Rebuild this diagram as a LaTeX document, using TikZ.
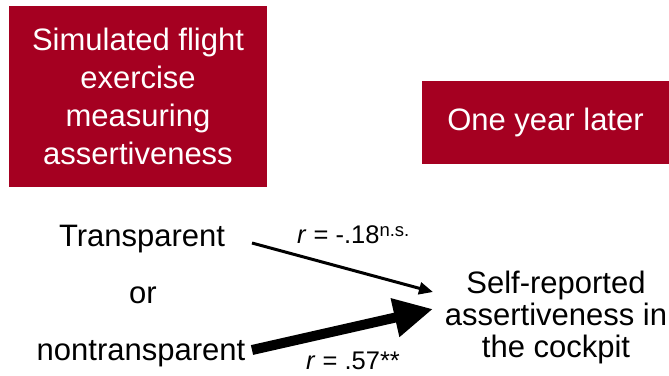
\documentclass[tikz,border=0pt]{standalone}
\usepackage{fontspec}
\setmainfont{Liberation Sans}
\usetikzlibrary{arrows.meta}
\definecolor{boxred}{RGB}{165,0,33}

\begin{document}
\begin{tikzpicture}[x=1pt,y=-1pt,
  redbox/.style={fill=boxred,text=white,align=center,inner sep=0pt,
    font=\fontsize{31}{38}\selectfont},
  txt/.style={inner sep=0pt,font=\fontsize{31}{32}\selectfont},
  lbl/.style={inner sep=0pt,anchor=base west,font=\fontsize{25.5}{30}\selectfont}]
 \useasboundingbox (0,0) rectangle (669,375);
 \node[redbox,minimum width=258pt,minimum height=181pt] (sim) at (138,96.5)
   {Simulated flight\\exercise\\measuring\\assertiveness};
 \node[redbox,minimum width=247pt,minimum height=83pt] (later) at (545.5,122.5)
   {One year later};
 \node[txt,anchor=base] (trans) at (142,246) {Transparent};
 \node[txt,anchor=base] (or) at (143,303) {or};
 \node[txt,anchor=base] (nontrans) at (141,360) {nontransparent};
 % base of a multi-line node is its last line
 \node[txt,align=center,anchor=base] (self) at (556,357)
   {Self-reported\\assertiveness in\\the cockpit};
 \coordinate (s1) at (252,243);
 \coordinate (e1) at (433,292);
 \coordinate (s2) at (252,350);
 \coordinate (e2) at (433,309);
 \draw[line width=3pt,-{Triangle[length=14pt,width=12pt]}] (s1) -- (e1);
 \draw[line width=10pt,-{Triangle[length=39pt,width=37pt]}] (s2) -- (e2);
 \node[lbl] (rA) at (297,243)
   {\textit{r} = -.18\raisebox{7pt}{\fontsize{18.5}{20}\selectfont n.s.}};
 \node[lbl] (rB) at (306,369) {\textit{r} = .57**};
\end{tikzpicture}
\end{document}
